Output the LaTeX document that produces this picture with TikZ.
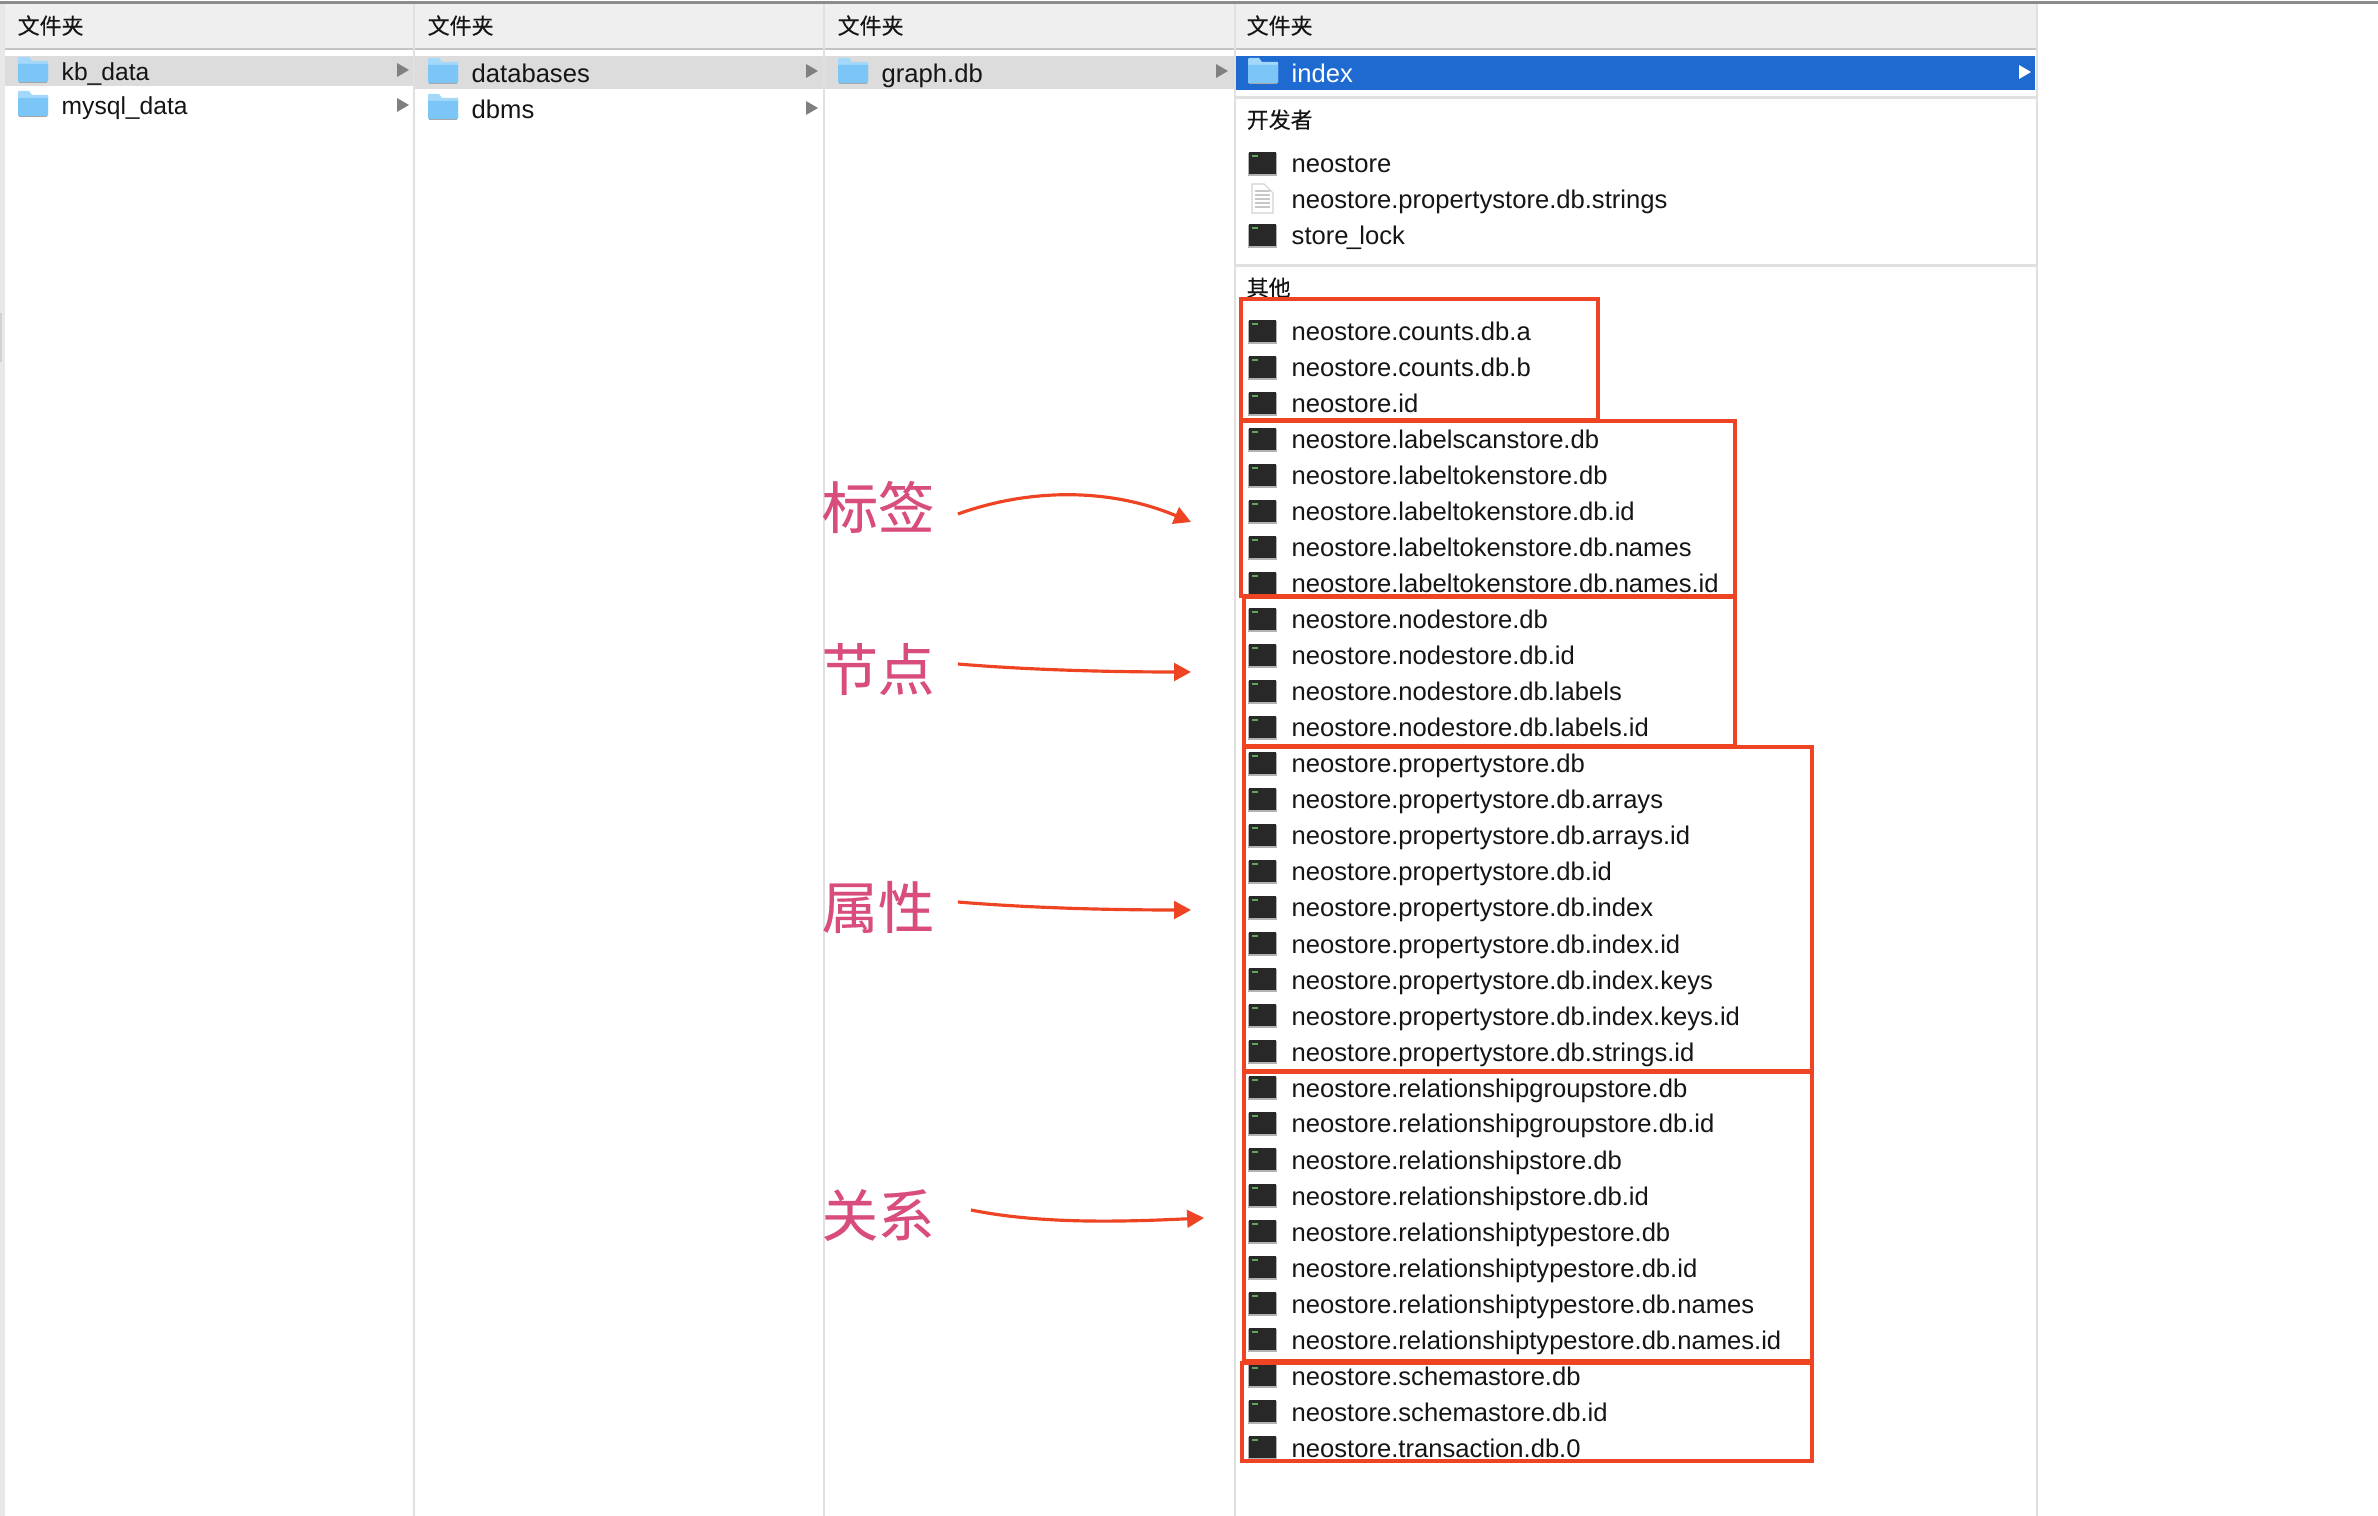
\documentclass[tikz,border=0pt]{standalone}
\usepackage{fontspec}
\setmainfont{Liberation Sans}
\newfontfamily\cjk[FakeBold=0.12]{Noto Sans CJK SC}
\newfontfamily\cjkcat[FakeBold=0.35]{Noto Sans CJK SC}
\usetikzlibrary{arrows.meta,calc,positioning}

\definecolor{headbg}{HTML}{EFEFEF}
\definecolor{headln}{HTML}{C4C4C4}
\definecolor{divln}{HTML}{E0E0E0}
\definecolor{selgray}{HTML}{DCDCDC}
\definecolor{selblue}{HTML}{1F6AD1}
\definecolor{folderc}{HTML}{7CC6F7}
\definecolor{foldertop}{HTML}{A4D8FA}
\definecolor{termc}{HTML}{282828}
\definecolor{termdot}{HTML}{5FA85F}
\definecolor{markred}{HTML}{EF4423}
\definecolor{markpink}{HTML}{D84C7E}
\definecolor{textc}{HTML}{151515}

\tikzset{
  filelab/.style={anchor=base west,inner sep=0pt,text=textc,font=\fontsize{7.28pt}{8pt}\selectfont},
  headlab/.style={anchor=base west,inner sep=0pt,text=textc,font=\cjk\fontsize{6.25pt}{8pt}\selectfont},
  catlab/.style={anchor=center,inner sep=0pt,text=markpink,font=\cjkcat\fontsize{16pt}{18pt}\selectfont},
  markbox/.style={draw=markred,line width=0.95pt},
  markarrow/.style={draw=markred,line width=0.9pt,-{Triangle[length=4.8pt,width=5pt]}},
}

% icons, #1 = left edge, #2 = row centre
\newcommand{\foldericon}[2]{
  \fill[foldertop] (#1,#2-14) -- (#1+1,#2-15) -- (#1+11,#2-15) -- (#1+14,#2-11) -- (#1+30,#2-11) -- (#1+30,#2+10) -- (#1,#2+10) -- cycle;
  \fill[folderc] (#1,#2-8) -- (#1+30,#2-8) -- (#1+30,#2+9) -- (#1+29,#2+10) -- (#1+1,#2+10) -- (#1,#2+9) -- cycle;
  \fill[black!35] (#1+1,#2+10) rectangle (#1+29,#2+11);
}
\newcommand{\termicon}[2]{
  \fill[black!30] (#1-1,#2-10) rectangle (#1+28,#2+13);
  \fill[termc] (#1,#2-11) rectangle (#1+27,#2+11);
  \fill[termdot] (#1+3,#2-8) rectangle (#1+9,#2-6);
}
\newcommand{\docicon}[2]{
  \draw[black!18,fill=white,line width=0.3pt] (#1+3,#2-15) -- (#1+15,#2-15) -- (#1+24,#2-6) -- (#1+24,#2+14) -- (#1+3,#2+14) -- cycle;
  \foreach \dy in {-8,-4,...,10}{
    \draw[black!22,line width=0.3pt] (#1+6,#2+\dy) -- (#1+21,#2+\dy);
  }
}

\begin{document}
\begin{tikzpicture}[x=0.01cm,y=-0.01cm]
  \useasboundingbox (0,0) rectangle (2378,1516);
  \fill[white] (0,0) rectangle (2378,1516);

  % window frame
  \fill[black!45] (0,1) rectangle (2378,4);
  \fill[headbg] (5,4) rectangle (2036,48);
  \fill[headln] (5,48) rectangle (2036,50);
  \fill[black!9] (0,4) rectangle (5,1516);
  \fill[black!18] (0,313) rectangle (2,362);

  % selected rows
  \fill[selgray] (5,56) rectangle (413,86);
  \fill[selgray] (414,56) rectangle (1234,89);
  \fill[selblue] (1235,56) rectangle (2035,90);

  % column lines
  \foreach \x in {413,823,1234,2036}{
    \fill[divln] (\x,4) rectangle (\x+2,1516);
  }
  \fill[divln] (1235,96) rectangle (2036,99);
  \fill[divln] (1235,264) rectangle (2036,267);

  % column heads
  \foreach \x/\n in {17/a,427/b,837/c,1246/d}{
    \node[headlab] (head\n) at (\x,34) {文件夹};
  }
  \node[headlab] (devhead) at (1246,128) {开发者};
  \node[headlab] (otherhead) at (1246,296) {其他};

  % folder rows
  \foldericon{18}{72}
  \foldericon{18}{106}
  \foldericon{428}{73}
  \foldericon{428}{109}
  \foldericon{838}{73}
  \foldericon{1248}{73}
  \node[filelab,font=\fontsize{7pt}{8pt}\selectfont] (kbdata) at (61,81) {kb\_data};
  \node[filelab,font=\fontsize{7pt}{8pt}\selectfont] (mysqldata) at (61,115) {mysql\_data};
  \node[filelab] (databases) at (471,83) {databases};
  \node[filelab] (dbms) at (471,119) {dbms};
  \node[filelab] (graphdb) at (881,83) {graph.db};
  \node[filelab,text=white] (index) at (1291,83) {index};
  \foreach \x/\y in {397/70,397/105,806/71,806/108,1216/71}{
    \fill[black!50] (\x,\y-7) -- (\x+12,\y) -- (\x,\y+7) -- cycle;
  }
  \fill[white] (2019,65) -- (2031,72) -- (2019,79) -- cycle;

  % developer files
  \termicon{1249}{163}
  \docicon{1249}{199}
  \termicon{1249}{235}
  \node[filelab] (devA) at (1291,173) {neostore};
  \node[filelab] (devB) at (1291,209) {neostore.propertystore.db.strings};
  \node[filelab] (devC) at (1291,245) {store\kern-0.5pt\_\kern-0.5pt lock};

  % other files
  \foreach \i/\lab in {
    0/neostore.counts.db.a, 1/neostore.counts.db.b, 2/neostore.id,
    3/neostore.labelscanstore.db, 4/neostore.labeltokenstore.db,
    5/neostore.labeltokenstore.db.id, 6/neostore.labeltokenstore.db.names,
    7/neostore.labeltokenstore.db.names.id, 8/neostore.nodestore.db,
    9/neostore.nodestore.db.id, 10/neostore.nodestore.db.labels,
    11/neostore.nodestore.db.labels.id, 12/neostore.propertystore.db,
    13/neostore.propertystore.db.arrays, 14/neostore.propertystore.db.arrays.id,
    15/neostore.propertystore.db.id, 16/neostore.propertystore.db.index,
    17/neostore.propertystore.db.index.id, 18/neostore.propertystore.db.index.keys,
    19/neostore.propertystore.db.index.keys.id, 20/neostore.propertystore.db.strings.id,
    21/neostore.relationshipgroupstore.db, 22/neostore.relationshipgroupstore.db.id,
    23/neostore.relationshipstore.db, 24/neostore.relationshipstore.db.id,
    25/neostore.relationshiptypestore.db, 26/neostore.relationshiptypestore.db.id,
    27/neostore.relationshiptypestore.db.names, 28/neostore.relationshiptypestore.db.names.id,
    29/neostore.schemastore.db, 30/neostore.schemastore.db.id, 31/neostore.transaction.db.0}{
    \pgfmathsetmacro{\y}{331+36*\i}
    \termicon{1249}{\y}
    \node[filelab] (file\i) at (1291,\y+10) {\lab};
  }

  % group boxes
  \draw[markbox] (1241,299) rectangle (1598,420);
  \draw[markbox] (1241,421) rectangle (1735,596);
  \draw[markbox] (1244,597) rectangle (1735,746);
  \draw[markbox] (1244,747) rectangle (1812,1071);
  \draw[markbox] (1244,1072) rectangle (1812,1361);
  \draw[markbox] (1242,1363) rectangle (1812,1461);

  % category labels
  \node[catlab] (tagLab) at (878,507) {标签};
  \node[catlab] (nodeLab) at (878,669) {节点};
  \node[catlab] (propLab) at (878,907) {属性};
  \node[catlab] (relLab) at (878,1215) {关系};

  \coordinate (tagEnd) at (1191,522);
  \coordinate (nodeEnd) at (1191,672);
  \coordinate (propEnd) at (1191,910);
  \coordinate (relEnd) at (1204,1218);
  \draw[markarrow] ($(tagLab.east)+(23,7)$) .. controls (1030,488) and (1110,488) .. (tagEnd);
  \draw[markarrow] ($(nodeLab.east)+(23,-5)$) .. controls (1030,670) and (1110,672) .. (nodeEnd);
  \draw[markarrow] ($(propLab.east)+(23,-5)$) .. controls (1030,908) and (1110,910) .. (propEnd);
  \draw[markarrow] ($(relLab.east)+(36,-5)$) .. controls (1040,1224) and (1120,1222) .. (relEnd);
\end{tikzpicture}
\end{document}
